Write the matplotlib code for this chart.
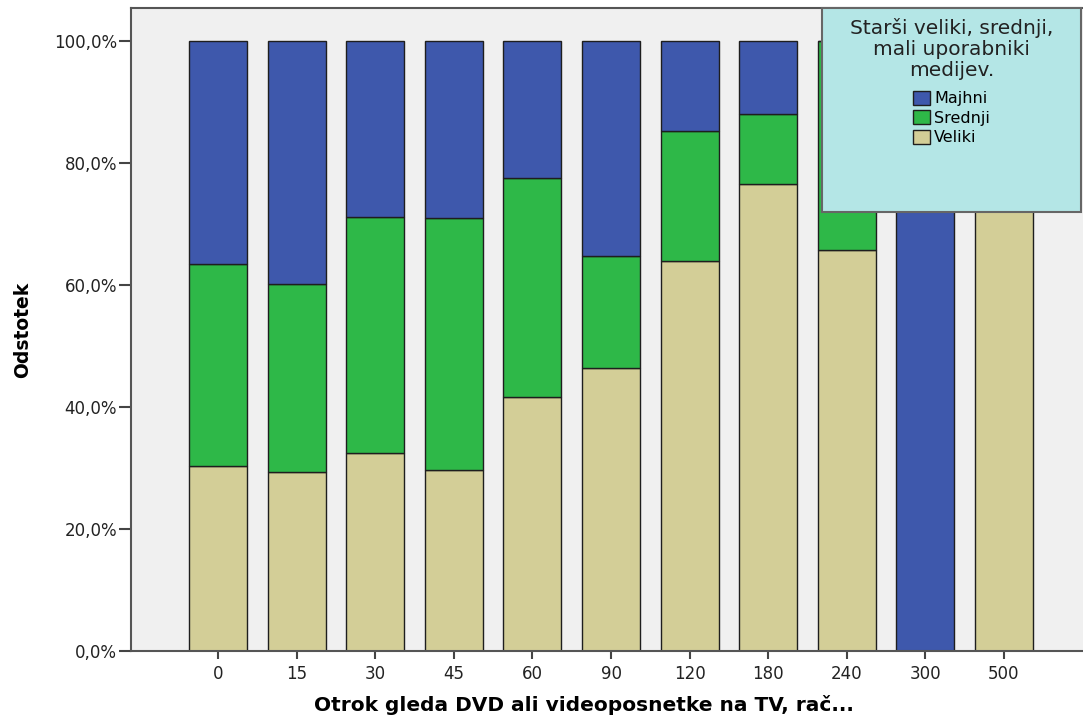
import matplotlib
matplotlib.use("Agg")
import matplotlib.pyplot as plt
from matplotlib.patches import Rectangle
from matplotlib.ticker import FuncFormatter
import numpy as np

# minutes per day the child watches DVD / video on TV
categories = ["0", "15", "30", "45", "60", "90", "120", "180", "240", "300", "500"]
# percent of parents in each media-use group
veliki = np.array([30.3, 29.3, 32.4, 29.6, 41.6, 46.4, 64.0, 76.6, 65.7, 0.0, 100.0])
srednji = np.array([33.1, 30.9, 38.7, 41.4, 36.0, 18.4, 21.3, 11.4, 34.3, 0.0, 0.0])
majhni = 100.0 - veliki - srednji

series_names = ["Majhni", "Srednji", "Veliki"]
colors = {"Majhni": "#3e58ac", "Srednji": "#2eb848", "Veliki": "#d3ce97"}
legend_title = "Starši veliki, srednji,\nmali uporabniki\nmedijev."

fig = plt.figure(figsize=(10.83, 7.19), dpi=100)
ax = fig.add_axes([131 / 1083, 1 - 651 / 719, 960 / 1083, 643 / 719])
ax.set_facecolor("#f0f0f0")

x = np.arange(len(categories))
w = 0.74
edge = dict(edgecolor="#1e1e1e", linewidth=1.0)
b_vel = ax.bar(x, veliki, w, color=colors["Veliki"], label="Veliki", **edge)
b_sre = ax.bar(x, srednji, w, bottom=veliki, color=colors["Srednji"], label="Srednji", **edge)
b_maj = ax.bar(x, majhni, w, bottom=veliki + srednji, color=colors["Majhni"], label="Majhni", **edge)

ax.set_xlim(-1.107, len(categories) - 1 + 1.107)
ax.set_ylim(0, 105.4)
ax.set_xticks(x)
ax.set_xticklabels(categories)
ax.set_yticks(np.arange(0, 101, 20))
ax.yaxis.set_major_formatter(FuncFormatter(lambda v, p: f"{v:.1f}%".replace(".", ",")))
ax.tick_params(axis="y", length=9, width=1.5, color="#444444", pad=1, labelsize=12, labelcolor="#222222")
ax.tick_params(axis="x", length=6, width=1.5, color="#444444", pad=4, labelsize=12, labelcolor="#222222")
for s in ax.spines.values():
    s.set_color("#555555")
    s.set_linewidth(1.5)

ax.set_ylabel("Odstotek", fontsize=13.5, fontweight="bold")
ax.yaxis.set_label_coords(-0.103, 0.5)
ax.set_xlabel("Otrok gleda DVD ali videoposnetke na TV, rač...", fontsize=14.5, fontweight="bold")
ax.xaxis.set_label_coords(0.472, -0.084)
ax.xaxis.label.set_va("center")

# legend box (SPSS style)
box = Rectangle((822 / 1083, 1 - 212 / 719), 259 / 1083, 204 / 719, transform=fig.transFigure,
                facecolor="#b4e6e6", edgecolor="#666666", linewidth=1.5, zorder=5)
fig.add_artist(box)
fig.text(951.5 / 1083, 1 - 18 / 719, legend_title, ha="center", va="top", multialignment="center",
         fontsize=14.5, linespacing=1.12, color="#222222", zorder=6)
leg = fig.legend([b_maj, b_sre, b_vel], series_names,
                 loc="upper center", bbox_to_anchor=(951.5 / 1083, 1 - 83 / 719),
                 frameon=False, fontsize=11.5, borderpad=0,
                 handlelength=1.1, handleheight=0.95, handletextpad=0.25, labelspacing=0.25)
leg.set_zorder(6)

fig.savefig("out.png", dpi=100)
